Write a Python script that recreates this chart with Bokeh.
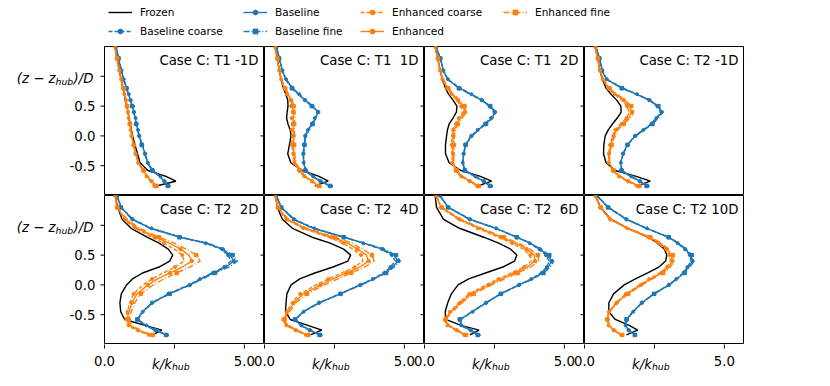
import math
from bokeh.plotting import figure
from bokeh.models import Range1d, Label, Legend, LegendItem
from bokeh.layouts import column, row
from bokeh.core.properties import value
from bokeh.embed import file_html
from bokeh.resources import INLINE

# vertical positions (z - z_hub)/D shared by every profile
Z = [1.5, 1.3, 1.1, 0.95, 0.8, 0.7, 0.6, 0.5, 0.4, 0.3, 0.2, 0.1, 0.0, -0.15, -0.3, -0.45, -0.58, -0.68, -0.76, -0.84]

titles = ["Case C: T1 -1D", "Case C: T1 \u00a01D", "Case C: T1 \u00a02D", "Case C: T2 -1D",
          "Case C: T2 \u00a02D", "Case C: T2 \u00a04D", "Case C: T2 \u00a06D", "Case C: T2 10D"]

x_ticks = [0.0, 2.5, 5.0]
x_tick_labels = ["0.0", None, "5.0"]
y_ticks = [-0.5, 0.0, 0.5, 1.0]
y_tick_labels = ["-0.5", "0.0", "0.5", None]

# ---- T1 -1D
t1m1_frozen = [0.38, 0.45, 0.53, 0.59, 0.66, 0.71, 0.75, 0.80, 0.84, 0.88, 0.92, 0.96, 1.00, 1.09, 1.18, 1.27, 1.55, 2.20, 2.55, 1.85]
t1m1_base = [0.41, 0.50, 0.60, 0.68, 0.79, 0.86, 0.93, 1.00, 1.05, 1.10, 1.14, 1.19, 1.24, 1.34, 1.45, 1.54, 1.72, 1.98, 2.14, 2.28]
t1m1_base_coarse = [0.41, 0.51, 0.61, 0.69, 0.80, 0.87, 0.94, 1.01, 1.06, 1.11, 1.15, 1.20, 1.25, 1.35, 1.46, 1.55, 1.74, 2.00, 2.16, 2.30]
t1m1_base_fine = [0.40, 0.50, 0.59, 0.67, 0.78, 0.85, 0.92, 0.99, 1.04, 1.09, 1.13, 1.18, 1.23, 1.33, 1.44, 1.53, 1.71, 1.96, 2.12, 2.26]
t1m1_enh = [0.37, 0.44, 0.53, 0.60, 0.67, 0.72, 0.76, 0.80, 0.84, 0.87, 0.90, 0.94, 0.97, 1.04, 1.11, 1.22, 1.38, 1.53, 1.68, 1.84]
t1m1_enh_coarse = [0.37, 0.44, 0.52, 0.59, 0.66, 0.71, 0.75, 0.79, 0.83, 0.86, 0.89, 0.93, 0.96, 1.03, 1.10, 1.20, 1.36, 1.50, 1.64, 1.78]
t1m1_enh_fine = [0.37, 0.45, 0.54, 0.61, 0.68, 0.73, 0.77, 0.81, 0.85, 0.88, 0.91, 0.95, 0.98, 1.05, 1.12, 1.23, 1.40, 1.55, 1.70, 1.86]

# ---- T1 1D
t1p1_frozen = [0.39, 0.46, 0.53, 0.59, 0.68, 0.76, 0.83, 0.84, 0.81, 0.79, 0.84, 0.92, 0.95, 0.89, 0.83, 0.94, 1.35, 1.95, 2.28, 1.80]
t1p1_base = [0.43, 0.53, 0.63, 0.76, 1.00, 1.22, 1.45, 1.70, 1.92, 1.82, 1.70, 1.57, 1.46, 1.42, 1.39, 1.40, 1.47, 1.72, 2.00, 2.36]
t1p1_base_coarse = [0.43, 0.53, 0.64, 0.77, 1.02, 1.24, 1.47, 1.72, 1.90, 1.80, 1.68, 1.55, 1.45, 1.41, 1.38, 1.40, 1.48, 1.74, 2.02, 2.38]
t1p1_base_fine = [0.42, 0.52, 0.62, 0.75, 0.98, 1.20, 1.44, 1.69, 1.93, 1.84, 1.72, 1.59, 1.48, 1.43, 1.40, 1.41, 1.46, 1.70, 1.98, 2.34]
t1p1_enh = [0.37, 0.45, 0.53, 0.60, 0.72, 0.84, 0.95, 0.99, 1.04, 1.03, 1.02, 1.03, 1.04, 1.02, 1.04, 1.10, 1.24, 1.46, 1.70, 1.94]
t1p1_enh_coarse = [0.37, 0.45, 0.52, 0.59, 0.70, 0.80, 0.90, 0.95, 0.98, 0.97, 0.97, 0.98, 0.99, 0.98, 1.00, 1.06, 1.20, 1.42, 1.66, 1.90]
t1p1_enh_fine = [0.37, 0.46, 0.54, 0.61, 0.74, 0.87, 0.99, 1.04, 1.09, 1.08, 1.06, 1.07, 1.08, 1.06, 1.07, 1.13, 1.27, 1.49, 1.72, 1.96]

# ---- T1 2D
t1p2_frozen = [0.38, 0.47, 0.56, 0.64, 0.75, 0.86, 1.02, 1.16, 1.14, 1.02, 0.88, 0.82, 0.79, 0.75, 0.75, 0.88, 1.30, 2.00, 2.40, 1.90]
t1p2_base = [0.41, 0.57, 0.67, 0.82, 1.25, 1.65, 2.05, 2.33, 2.52, 2.42, 2.17, 1.92, 1.68, 1.46, 1.40, 1.36, 1.45, 1.80, 2.12, 2.36]
t1p2_base_coarse = [0.41, 0.57, 0.68, 0.84, 1.28, 1.68, 2.06, 2.32, 2.48, 2.38, 2.14, 1.90, 1.67, 1.46, 1.40, 1.37, 1.46, 1.82, 2.14, 2.38]
t1p2_base_fine = [0.41, 0.56, 0.66, 0.81, 1.23, 1.63, 2.04, 2.35, 2.55, 2.45, 2.20, 1.94, 1.70, 1.47, 1.41, 1.36, 1.44, 1.78, 2.10, 2.34]
t1p2_enh = [0.38, 0.47, 0.56, 0.66, 0.82, 1.00, 1.20, 1.38, 1.45, 1.28, 1.14, 1.07, 1.03, 1.01, 1.02, 1.02, 1.12, 1.34, 1.62, 1.92]
t1p2_enh_coarse = [0.38, 0.47, 0.55, 0.64, 0.79, 0.96, 1.14, 1.31, 1.37, 1.22, 1.09, 1.02, 0.98, 0.97, 0.98, 0.99, 1.09, 1.31, 1.58, 1.88]
t1p2_enh_fine = [0.38, 0.48, 0.57, 0.68, 0.85, 1.04, 1.25, 1.43, 1.51, 1.34, 1.19, 1.11, 1.07, 1.05, 1.05, 1.05, 1.15, 1.37, 1.65, 1.94]

# ---- T2 -1D
t2m1_frozen = [0.38, 0.47, 0.55, 0.64, 0.77, 0.95, 1.15, 1.30, 1.31, 1.17, 1.00, 0.85, 0.74, 0.69, 0.68, 0.77, 1.10, 1.85, 2.35, 1.90]
t2m1_base = [0.40, 0.54, 0.63, 0.78, 1.35, 1.85, 2.32, 2.62, 2.76, 2.60, 2.40, 2.12, 1.81, 1.53, 1.38, 1.29, 1.33, 1.65, 1.98, 2.24]
t2m1_base_coarse = [0.40, 0.54, 0.64, 0.80, 1.38, 1.88, 2.33, 2.60, 2.72, 2.57, 2.37, 2.10, 1.80, 1.53, 1.38, 1.30, 1.34, 1.67, 2.00, 2.26]
t2m1_base_fine = [0.40, 0.53, 0.62, 0.77, 1.33, 1.83, 2.31, 2.64, 2.80, 2.64, 2.43, 2.14, 1.83, 1.54, 1.39, 1.29, 1.32, 1.63, 1.96, 2.22]
t2m1_enh = [0.38, 0.47, 0.55, 0.67, 0.86, 1.12, 1.40, 1.60, 1.69, 1.58, 1.34, 1.14, 1.04, 0.94, 0.88, 0.88, 1.02, 1.26, 1.56, 1.93]
t2m1_enh_coarse = [0.38, 0.47, 0.54, 0.65, 0.83, 1.07, 1.33, 1.52, 1.60, 1.50, 1.28, 1.10, 1.00, 0.91, 0.86, 0.86, 1.00, 1.23, 1.52, 1.88]
t2m1_enh_fine = [0.38, 0.48, 0.56, 0.69, 0.89, 1.16, 1.46, 1.67, 1.76, 1.65, 1.40, 1.19, 1.08, 0.97, 0.90, 0.90, 1.04, 1.29, 1.59, 1.96]

# ---- T2 2D
t2p2_frozen = [0.38, 0.47, 0.63, 0.95, 1.52, 1.95, 2.28, 2.44, 2.33, 1.95, 1.36, 1.00, 0.79, 0.60, 0.55, 0.58, 0.72, 1.45, 2.05, 1.72]
t2p2_base = [0.45, 0.59, 1.00, 1.65, 2.70, 3.65, 4.22, 4.50, 4.62, 4.35, 3.88, 3.45, 3.05, 2.30, 1.70, 1.36, 1.18, 1.48, 1.82, 2.22]
t2p2_base_coarse = [0.45, 0.60, 1.02, 1.68, 2.72, 3.62, 4.16, 4.42, 4.52, 4.28, 3.84, 3.42, 3.02, 2.28, 1.70, 1.37, 1.19, 1.50, 1.84, 2.24]
t2p2_base_fine = [0.44, 0.58, 0.98, 1.63, 2.68, 3.68, 4.28, 4.58, 4.75, 4.45, 3.95, 3.50, 3.08, 2.33, 1.72, 1.36, 1.17, 1.46, 1.80, 2.20]
t2p2_enh = [0.38, 0.45, 0.75, 1.18, 1.82, 2.32, 2.72, 3.02, 3.12, 2.78, 2.34, 1.90, 1.55, 1.16, 0.98, 0.88, 0.80, 0.92, 1.20, 1.66]
t2p2_enh_coarse = [0.38, 0.44, 0.70, 1.10, 1.68, 2.12, 2.50, 2.78, 2.85, 2.52, 2.10, 1.70, 1.38, 1.04, 0.90, 0.82, 0.74, 0.86, 1.12, 1.58]
t2p2_enh_fine = [0.38, 0.46, 0.80, 1.26, 1.95, 2.50, 2.92, 3.28, 3.42, 3.05, 2.58, 2.12, 1.74, 1.30, 1.08, 0.96, 0.86, 0.98, 1.26, 1.72]

# ---- T2 4D
t2p4_frozen = [0.39, 0.46, 0.64, 1.00, 1.70, 2.35, 2.83, 3.08, 2.98, 2.45, 1.80, 1.26, 0.95, 0.80, 0.77, 0.75, 0.92, 1.55, 2.05, 1.64]
t2p4_base = [0.42, 0.60, 1.05, 1.75, 2.85, 3.55, 4.22, 4.63, 4.77, 4.57, 4.30, 3.90, 3.43, 2.70, 1.95, 1.38, 1.10, 1.30, 1.62, 1.99]
t2p4_base_coarse = [0.42, 0.61, 1.07, 1.78, 2.86, 3.53, 4.16, 4.55, 4.68, 4.50, 4.25, 3.87, 3.41, 2.70, 1.96, 1.40, 1.12, 1.32, 1.64, 2.01]
t2p4_base_fine = [0.41, 0.59, 1.03, 1.72, 2.83, 3.58, 4.27, 4.70, 4.86, 4.64, 4.35, 3.94, 3.46, 2.72, 1.96, 1.38, 1.09, 1.28, 1.60, 1.97]
t2p4_enh = [0.38, 0.48, 0.80, 1.45, 2.40, 2.98, 3.32, 3.65, 3.72, 3.40, 2.93, 2.45, 2.00, 1.40, 1.04, 0.85, 0.68, 0.82, 1.12, 1.52]
t2p4_enh_coarse = [0.38, 0.47, 0.76, 1.38, 2.28, 2.82, 3.15, 3.45, 3.52, 3.22, 2.76, 2.28, 1.84, 1.28, 0.96, 0.80, 0.64, 0.78, 1.08, 1.48]
t2p4_enh_fine = [0.38, 0.49, 0.85, 1.52, 2.52, 3.14, 3.50, 3.84, 3.92, 3.58, 3.10, 2.62, 2.15, 1.52, 1.12, 0.90, 0.72, 0.86, 1.16, 1.56]

# ---- T2 6D
t2p6_frozen = [0.38, 0.43, 0.68, 1.25, 2.12, 2.65, 3.08, 3.30, 3.22, 2.80, 2.18, 1.58, 1.20, 0.96, 0.83, 0.74, 0.76, 1.30, 1.95, 1.62]
t2p6_base = [0.55, 0.85, 1.62, 2.55, 3.30, 3.78, 4.12, 4.40, 4.54, 4.43, 4.20, 3.85, 3.38, 2.72, 2.20, 1.70, 1.27, 1.30, 1.65, 1.92]
t2p6_base_coarse = [0.55, 0.86, 1.64, 2.56, 3.30, 3.76, 4.08, 4.34, 4.46, 4.37, 4.16, 3.82, 3.36, 2.72, 2.21, 1.72, 1.29, 1.32, 1.67, 1.94]
t2p6_base_fine = [0.54, 0.84, 1.60, 2.53, 3.30, 3.80, 4.16, 4.46, 4.62, 4.50, 4.25, 3.88, 3.40, 2.73, 2.20, 1.69, 1.26, 1.28, 1.63, 1.90]
t2p6_enh = [0.41, 0.60, 1.25, 1.98, 2.74, 3.25, 3.65, 3.92, 3.95, 3.68, 3.22, 2.75, 2.30, 1.68, 1.28, 0.95, 0.73, 0.85, 1.15, 1.45]
t2p6_enh_coarse = [0.41, 0.58, 1.20, 1.90, 2.64, 3.14, 3.52, 3.78, 3.82, 3.56, 3.10, 2.64, 2.20, 1.60, 1.22, 0.90, 0.70, 0.82, 1.12, 1.42]
t2p6_enh_fine = [0.42, 0.62, 1.30, 2.05, 2.84, 3.36, 3.78, 4.05, 4.08, 3.80, 3.33, 2.86, 2.40, 1.76, 1.34, 1.00, 0.76, 0.88, 1.18, 1.48]

# ---- T2 10D
t2p10_frozen = [0.38, 0.58, 0.95, 1.55, 2.28, 2.62, 2.86, 2.94, 2.90, 2.66, 2.26, 1.82, 1.42, 1.04, 0.87, 0.87, 1.10, 1.60, 1.90, 1.50]
t2p10_base = [0.44, 0.85, 1.50, 2.22, 3.00, 3.35, 3.60, 3.80, 3.86, 3.72, 3.55, 3.30, 3.02, 2.48, 2.05, 1.73, 1.51, 1.46, 1.58, 1.81]
t2p10_base_coarse = [0.44, 0.86, 1.52, 2.23, 2.99, 3.33, 3.57, 3.76, 3.81, 3.68, 3.52, 3.28, 3.01, 2.48, 2.06, 1.74, 1.52, 1.47, 1.59, 1.82]
t2p10_base_fine = [0.43, 0.84, 1.48, 2.21, 3.01, 3.37, 3.63, 3.84, 3.92, 3.77, 3.58, 3.32, 3.03, 2.49, 2.05, 1.72, 1.50, 1.45, 1.57, 1.80]
t2p10_enh = [0.38, 0.57, 0.92, 1.55, 2.30, 2.70, 2.94, 3.10, 3.14, 3.02, 2.75, 2.38, 2.02, 1.52, 1.15, 0.89, 0.80, 0.88, 1.05, 1.33]
t2p10_enh_coarse = [0.38, 0.56, 0.90, 1.52, 2.25, 2.64, 2.88, 3.04, 3.07, 2.95, 2.69, 2.32, 1.97, 1.48, 1.12, 0.87, 0.78, 0.86, 1.03, 1.31]
t2p10_enh_fine = [0.38, 0.58, 0.94, 1.58, 2.35, 2.76, 3.00, 3.16, 3.20, 3.08, 2.81, 2.44, 2.07, 1.56, 1.18, 0.91, 0.82, 0.90, 1.07, 1.35]

panels = [
    (t1m1_frozen, t1m1_base_coarse, t1m1_base, t1m1_base_fine, t1m1_enh_coarse, t1m1_enh, t1m1_enh_fine),
    (t1p1_frozen, t1p1_base_coarse, t1p1_base, t1p1_base_fine, t1p1_enh_coarse, t1p1_enh, t1p1_enh_fine),
    (t1p2_frozen, t1p2_base_coarse, t1p2_base, t1p2_base_fine, t1p2_enh_coarse, t1p2_enh, t1p2_enh_fine),
    (t2m1_frozen, t2m1_base_coarse, t2m1_base, t2m1_base_fine, t2m1_enh_coarse, t2m1_enh, t2m1_enh_fine),
    (t2p2_frozen, t2p2_base_coarse, t2p2_base, t2p2_base_fine, t2p2_enh_coarse, t2p2_enh, t2p2_enh_fine),
    (t2p4_frozen, t2p4_base_coarse, t2p4_base, t2p4_base_fine, t2p4_enh_coarse, t2p4_enh, t2p4_enh_fine),
    (t2p6_frozen, t2p6_base_coarse, t2p6_base, t2p6_base_fine, t2p6_enh_coarse, t2p6_enh, t2p6_enh_fine),
    (t2p10_frozen, t2p10_base_coarse, t2p10_base, t2p10_base_fine, t2p10_enh_coarse, t2p10_enh, t2p10_enh_fine),
]

BLUE = "#1f77b4"
ORANGE = "#ff7f0e"
FONT = "DejaVu Sans"
TICK_FS = "13.3px"
SUB_FS = "9.3px"
LW = 1.4

XMAX = 5.72
YMIN, YMAX = -1.0, 1.5
YSPAN = YMAX - YMIN
FW, FH = 160, 149          # panel frame size in px
LEFT_W = 104               # width of the left label strip
TOP_H = 46                 # height of the legend strip
BOT_H = 30                 # height of the bottom label strip
PXU = FW / XMAX            # px per x unit

# series styles: (label, color, dash, marker, marker size, marker start, marker step)
styles = [
    ("Frozen", "black", "solid", None, 0, 0, 1),
    ("Baseline coarse", BLUE, "4 2", "circle", 3.0, 1, 2),
    ("Baseline", BLUE, "solid", "circle", 3.5, 0, 2),
    ("Baseline fine", BLUE, "6 2 1 2", "square", 3.5, 1, 3),
    ("Enhanced coarse", ORANGE, "4 2", "circle", 3.0, 1, 2),
    ("Enhanced", ORANGE, "solid", "circle", 3.5, 0, 2),
    ("Enhanced fine", ORANGE, "6 2 1 2", "square", 3.5, 1, 3),
]


def bare_figure(**kw):
    p = figure(output_backend="svg", toolbar_location=None,
               x_axis_location=None, y_axis_location=None,
               min_border_left=0, min_border_right=0, min_border_top=0, min_border_bottom=0,
               background_fill_color="white", border_fill_color="white", **kw)
    p.xgrid.grid_line_color = None
    p.ygrid.grid_line_color = None
    return p


def draw_series(p, xs, ys, style):
    label, color, dash, marker, msize, m0, mstep = style
    rs = [p.line(xs, ys, line_color=color, line_width=LW, line_dash=dash)]
    if marker is not None:
        rs.append(p.scatter(xs[m0::mstep], ys[m0::mstep], marker=marker, size=msize,
                            fill_color=color, line_color=color))
    return rs


def make_panel(idx):
    col = idx % 4
    p = bare_figure(frame_width=FW, frame_height=FH,
                    x_range=Range1d(0, XMAX), y_range=Range1d(YMIN, YMAX))
    p.outline_line_color = "black"
    p.outline_line_width = 1
    for xs, st in zip(panels[idx], styles):
        draw_series(p, xs, Z, st)
    if col < 3:
        # y ticks of the neighbouring panel, pointing into this one
        p.scatter([XMAX] * len(y_ticks), y_ticks, marker="dash", size=8,
                  line_color="black", line_width=1)
    p.add_layout(Label(x=FW - 6, y=FH - 14, x_units="screen", y_units="screen", text=titles[idx],
                       text_align="right", text_baseline="middle", text_font=FONT,
                       text_font_size=TICK_FS, text_color="black"))
    return p


figs = [make_panel(i) for i in range(8)]

# ---- left strip: y tick marks, y tick labels and y label (both rows)
left = bare_figure(width=LEFT_W, height=2 * FH,
                   x_range=Range1d(0, LEFT_W), y_range=Range1d(YMIN, YMAX + YSPAN))
left.outline_line_color = None
for r in range(2):
    off = (1 - r) * YSPAN
    ty = [t + off for t in y_ticks]
    left.scatter([LEFT_W] * len(ty), ty, marker="dash", size=8, line_color="black", line_width=1)
    ly = [t + off for t, s in zip(y_ticks, y_tick_labels) if s]
    ls = [s for s in y_tick_labels if s]
    left.text(x=[LEFT_W - 9] * len(ly), y=ly, text=ls, text_align="right", text_baseline="middle",
              text_font=value(FONT), text_font_size=value(TICK_FS), text_color="black")
    yl = y_ticks[-1] + off
    common = dict(text_font=value(FONT), text_font_style="italic", text_color="black",
                  text_baseline="alphabetic")
    left.text(x=[LEFT_W - 49], y=[yl], text=["(z \u2212 z"], text_align="right",
              text_font_size=value(TICK_FS), y_offset=2.2, **common)
    left.text(x=[LEFT_W - 49], y=[yl], text=["hub"], text_align="left",
              text_font_size=value(SUB_FS), y_offset=5.5, **common)
    left.text(x=[LEFT_W - 31], y=[yl], text=[")/D"], text_align="left",
              text_font_size=value(TICK_FS), y_offset=2.2, **common)

# ---- bottom strip: x tick marks, x tick labels and x label under each bottom panel
bottom = bare_figure(width=LEFT_W + 4 * FW, height=BOT_H,
                     x_range=Range1d(-LEFT_W / PXU, 4 * XMAX), y_range=Range1d(0, BOT_H))
bottom.outline_line_color = None
for c in range(4):
    off = c * XMAX
    tx = [t + off for t in x_ticks]
    bottom.scatter(tx, [BOT_H] * len(tx), marker="dash", angle=math.pi / 2, size=8,
                   line_color="black", line_width=1)
    lx = [t + off for t, s in zip(x_ticks, x_tick_labels) if s]
    ls = [s for s in x_tick_labels if s]
    bottom.text(x=lx, y=[14] * len(lx), text=ls, text_align="center", text_baseline="middle",
                text_font=value(FONT), text_font_size=value(TICK_FS), text_color="black")
    xl = x_ticks[1] + off
    common = dict(text_font=value(FONT), text_font_style="italic", text_color="black",
                  text_baseline="alphabetic", x_offset=-2.5)
    bottom.text(x=[xl], y=[10], text=["k/k"], text_align="right",
                text_font_size=value(TICK_FS), **common)
    bottom.text(x=[xl], y=[8], text=["hub"], text_align="left",
                text_font_size=value(SUB_FS), **common)

# ---- legend strip (legend glyphs come from invisible NaN renderers)
lf = bare_figure(width=LEFT_W + 4 * FW, height=TOP_H, x_range=Range1d(0, 1), y_range=Range1d(0, 1))
lf.outline_line_color = None
nan = float("nan")
items = []
for st in styles:
    rs = draw_series(lf, [nan] * 4, [nan] * 4, st)
    items.append(LegendItem(label=st[0], renderers=rs))

legend_cols = [(108, items[0:2]), (243, items[2:4]), (360, items[4:6]), (503, items[6:7])]
for xpos, its in legend_cols:
    nrow = len(its)
    h = nrow * 12 + (nrow - 1) * 7
    leg = Legend(items=its, location=(xpos, TOP_H - 6 - h), orientation="vertical",
                 glyph_width=24, glyph_height=12, label_height=12, spacing=7,
                 label_standoff=8, padding=0, margin=0, border_line_color=None,
                 background_fill_alpha=0, label_text_font=FONT, label_text_font_size="10.5px",
                 label_text_color="black")
    lf.add_layout(leg)

layout = column(lf, row(left, column(row(*figs[:4]), row(*figs[4:]))), bottom)
open("out.html", "w").write(file_html(layout, INLINE))
